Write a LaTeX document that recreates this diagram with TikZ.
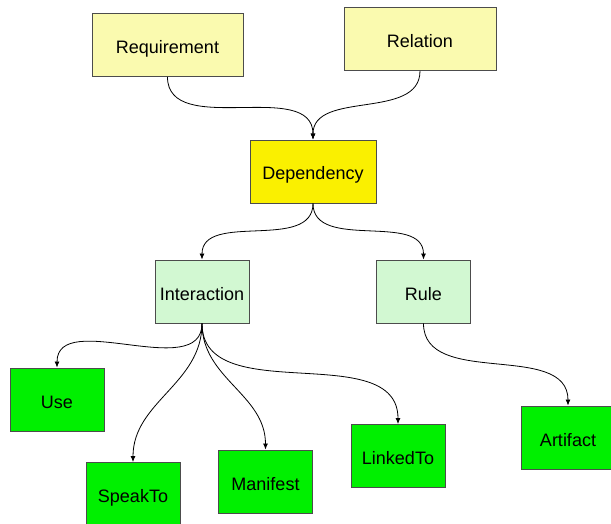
\documentclass[tikz,border=0pt]{standalone}
\usepackage{fontspec}
\setmainfont{Liberation Sans}
\usepackage{xcolor}
\usetikzlibrary{arrows.meta}

\definecolor{paleyellow}{RGB}{250,250,175}
\definecolor{brightyellow}{RGB}{250,240,0}
\definecolor{palegreen}{RGB}{210,248,210}
\definecolor{brightgreen}{RGB}{0,240,0}

\tikzset{
  box/.style={draw=black!70, line width=0.9pt, rectangle, font=\fontsize{18}{21}\selectfont,
    text height=17pt, text depth=0pt,
    minimum width=94pt, minimum height=63pt, inner sep=0pt},
  link/.style={-{Latex[length=6pt,width=5pt]}, line width=0.8pt}
}

\begin{document}
\begin{tikzpicture}[x=1pt, y=-1pt]
                \clip (0,0) rectangle (611,524);
                \fill[white] (0,0) rectangle (611,524);
                \node[box, fill=paleyellow, minimum width=151pt] (req) at (167.5,45) {Requirement};
                \node[box, fill=paleyellow, minimum width=152pt] (rel) at (420,39) {Relation};
                \node[box, fill=brightyellow, minimum width=126pt] (dep) at (313,171.5) {Dependency};
                \node[box, fill=palegreen] (inter) at (202,291.5) {Interaction};
                \node[box, fill=palegreen] (rule) at (423.5,291.5) {Rule};
                \node[box, fill=brightgreen] (use) at (57,399.5) {Use};
                \node[box, fill=brightgreen] (speak) at (133,494) {SpeakTo};
                \node[box, fill=brightgreen] (manif) at (265.5,481.5) {Manifest};
                \node[box, fill=brightgreen] (linked) at (398,456) {LinkedTo};
                \node[box, fill=brightgreen] (artif) at (568,437.5) {Artifact};
                \draw[link] (req.south) to[out=-90, in=90] (dep.north);
                \draw[link] (rel.south) to[out=-90, in=90] (dep.north);
                \draw[link] (dep.south) to[out=-90, in=90] (inter.north);
                \draw[link] (dep.south) to[out=-90, in=90] (rule.north);
                \draw[link] (inter.south) to[out=-90, in=90] (use.north);
                \draw[link] (inter.south) to[out=-90, in=90] (speak.north);
                \draw[link] (inter.south) to[out=-90, in=90] (manif.north);
                \draw[link] (inter.south) to[out=-90, in=90] (linked.north);
                \draw[link] (rule.south) to[out=-90, in=90] (artif.north);
            \end{tikzpicture}
\end{document}
